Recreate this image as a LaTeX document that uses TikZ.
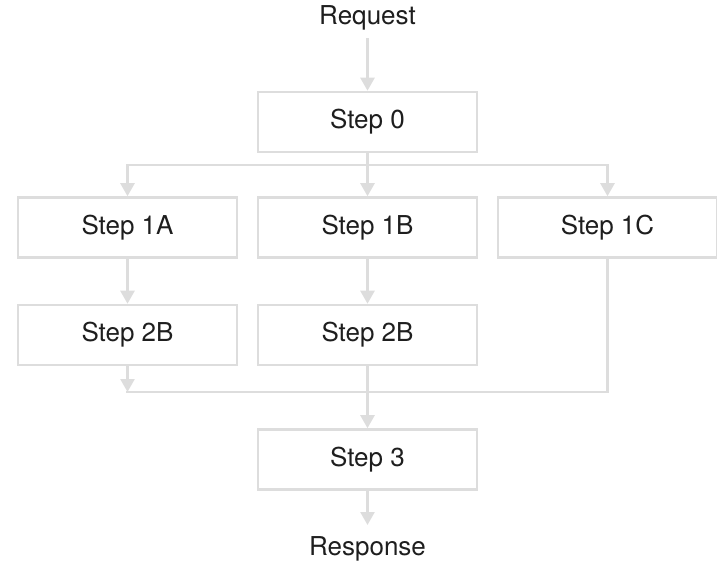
\documentclass[tikz,border=0pt]{standalone}
\usepackage{fontspec}
\setmainfont{TeX Gyre Heros}
\usetikzlibrary{arrows.meta}
\definecolor{linegray}{RGB}{221,221,221}
\definecolor{textcol}{RGB}{30,30,30}
\begin{document}
\begin{tikzpicture}[x=1pt,y=-1pt,
  stepbox/.style={draw=linegray, line width=2.6pt, minimum width=219pt, minimum height=60pt,
    inner sep=0pt, text=textcol, font=\fontsize{26}{30}\selectfont},
  label/.style={text=textcol, font=\fontsize{26}{30}\selectfont, inner sep=0pt},
  conn/.style={draw=linegray, line width=2.6pt},
  arr/.style={conn, -{Triangle[length=13pt,width=14pt]}}
]
\useasboundingbox (0,0) rectangle (717,562);

\node[label] (req) at (367.5,18) {Request};
\node[stepbox] (s0) at (367.5,122) {Step 0};
\node[stepbox] (s1a) at (127.5,227.5) {Step 1A};
\node[stepbox] (s1b) at (367.5,227.5) {Step 1B};
\node[stepbox] (s1c) at (607.5,227.5) {Step 1C};
\node[stepbox] (s2a) at (127.5,335) {Step 2B};
\node[stepbox] (s2b) at (367.5,335) {Step 2B};
\node[stepbox] (s3) at (367.5,459.5) {Step 3};
\node[label] (resp) at (367.5,549) {Response};

\coordinate (reqend) at (367.5,38);
\coordinate (b0) at (367.5,165);
\coordinate (bA) at (127.5,165);
\coordinate (bC) at (607.5,165);
\coordinate (mA) at (127.5,392);
\coordinate (mB) at (367.5,392);
\coordinate (mC) at (607.5,392);
\coordinate (respend) at (367.5,525);

\draw[arr] (reqend) -- (s0.north);
\draw[conn] (s0.south) -- (b0);
\draw[conn, line cap=rect] (bA) -- (bC);
\draw[arr] (bA) -- (s1a.north);
\draw[arr] (b0) -- (s1b.north);
\draw[arr] (bC) -- (s1c.north);
\draw[arr] (s1a.south) -- (s2a.north);
\draw[arr] (s1b.south) -- (s2b.north);
\draw[arr] (s2a.south) -- (mA);
\draw[conn] (s1c.south) -- (mC);
\draw[conn, line cap=rect] (mA) -- (mC);
\draw[arr] (s2b.south) -- (s3.north);
\draw[arr] (s3.south) -- (respend);
\end{tikzpicture}
\end{document}
